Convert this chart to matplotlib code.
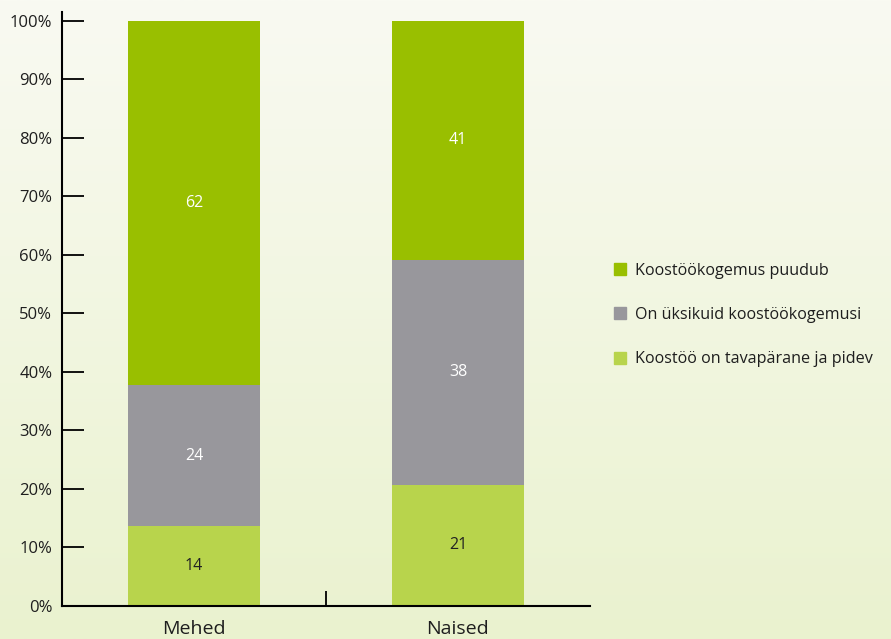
import numpy as np
import matplotlib
matplotlib.use("Agg")
from matplotlib import pyplot as plt
from matplotlib.lines import Line2D

# data (percent), bottom to top
groups = ["Mehed", "Naised"]
regular = [13.7, 20.7]      # Koostöö on tavapärane ja pidev
some = [24.0, 38.4]         # On üksikuid koostöökogemusi
none = [62.3, 40.9]         # Koostöökogemus puudub
series_labels = ["Koostöö on tavapärane ja pidev",
                 "On üksikuid koostöökogemusi",
                 "Koostöökogemus puudub"]
yticks = list(range(0, 101, 10))

colors = ["#b8d44c", "#98979c", "#99bf00"]
text_colors = ["#222222", "white", "white"]

plt.rcParams['font.family'] = ['Open Sans', 'DejaVu Sans']

fig = plt.figure(figsize=(8.91, 6.39), dpi=100)

# gradient background
bg = fig.add_axes([0, 0, 1, 1], zorder=-10)
top = np.array([0xf9, 0xfa, 0xf2]) / 255
bot = np.array([0xea, 0xf2, 0xcf]) / 255
t = np.linspace(0, 1, 256)[:, None]
grad = top * (1 - t) + bot * t
bg.imshow(grad[:, None, :], aspect="auto", extent=[0, 1, 0, 1])
bg.set_axis_off()

ax = fig.add_axes([62 / 891, 33 / 639, 528 / 891, 594 / 639])
ax.patch.set_alpha(0)

x = np.arange(len(groups))
bottom = np.zeros(len(groups))
for vals, c, tc in zip([regular, some, none], colors, text_colors):
    bars = ax.bar(x, vals, width=0.5, bottom=bottom, color=c, zorder=2)
    for xi, b, v in zip(x, bottom, vals):
        ax.text(xi, b + v / 2, f"{v:.0f}", ha="center", va="center",
                color=tc, fontsize=11.5, zorder=3)
    bottom += np.array(vals)

ax.set_xlim(-0.5, 1.5)
ax.set_ylim(0, 101.5)
ax.set_yticks(yticks)
ax.set_yticklabels([f"{v}%" for v in yticks], fontsize=12, color="#1e1e1e")
ax.set_xticks([0.5])
ax.set_xticklabels([""])
ax.tick_params(axis="y", direction="in", length=16, width=1.3, pad=7)
ax.tick_params(axis="x", direction="in", length=11, width=1.3)
for i, g in enumerate(groups):
    ax.text(i, -4.8, g, ha="center", va="baseline", fontsize=14,
            color="#1e1e1e")

for s in ["top", "right"]:
    ax.spines[s].set_visible(False)
ax.spines["left"].set_linewidth(1.5)
ax.spines["bottom"].set_linewidth(1.5)

handles = [Line2D([], [], marker="s", linestyle="", markersize=8,
                  color=c) for c in colors]
leg = fig.legend(handles[::-1], series_labels[::-1], loc="center left",
                 bbox_to_anchor=(597 / 891, 1 - 315 / 639), frameon=False,
                 fontsize=11.6, labelspacing=1.75, handletextpad=0.45,
                 handlelength=1.0)
for txt in leg.get_texts():
    txt.set_color("#1e1e1e")

fig.savefig("out.png", dpi=100)
